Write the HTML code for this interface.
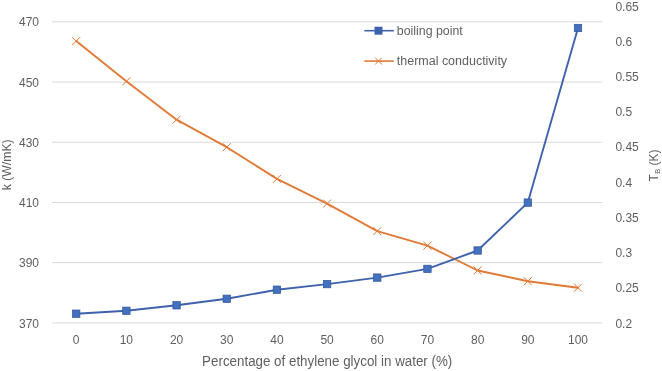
<!DOCTYPE html><html><head><meta charset="utf-8"><style>html,body{margin:0;padding:0;background:#fff;width:662px;height:371px;overflow:hidden}svg{display:block;filter:blur(0.35px)}text{font-family:"Liberation Sans",sans-serif;fill:#5f5f5f}</style></head><body>
<svg width="662" height="371" viewBox="0 0 662 371">
<rect width="662" height="371" fill="#fff"/>
<line x1="52" y1="21.80" x2="602.4" y2="21.80" stroke="#D9D9D9" stroke-width="1"/>
<line x1="52" y1="82.02" x2="602.4" y2="82.02" stroke="#D9D9D9" stroke-width="1"/>
<line x1="52" y1="142.24" x2="602.4" y2="142.24" stroke="#D9D9D9" stroke-width="1"/>
<line x1="52" y1="202.46" x2="602.4" y2="202.46" stroke="#D9D9D9" stroke-width="1"/>
<line x1="52" y1="262.68" x2="602.4" y2="262.68" stroke="#D9D9D9" stroke-width="1"/>
<line x1="52" y1="322.90" x2="602.4" y2="322.90" stroke="#D9D9D9" stroke-width="1"/>
<text x="39" y="26.40" font-size="12" text-anchor="end">470</text>
<text x="39" y="86.62" font-size="12" text-anchor="end">450</text>
<text x="39" y="146.84" font-size="12" text-anchor="end">430</text>
<text x="39" y="207.06" font-size="12" text-anchor="end">410</text>
<text x="39" y="267.28" font-size="12" text-anchor="end">390</text>
<text x="39" y="327.50" font-size="12" text-anchor="end">370</text>
<text x="615.4" y="10.60" font-size="12">0.65</text>
<text x="615.4" y="45.82" font-size="12">0.6</text>
<text x="615.4" y="81.04" font-size="12">0.55</text>
<text x="615.4" y="116.26" font-size="12">0.5</text>
<text x="615.4" y="151.48" font-size="12">0.45</text>
<text x="615.4" y="186.70" font-size="12">0.4</text>
<text x="615.4" y="221.92" font-size="12">0.35</text>
<text x="615.4" y="257.14" font-size="12">0.3</text>
<text x="615.4" y="292.36" font-size="12">0.25</text>
<text x="615.4" y="327.58" font-size="12">0.2</text>
<text x="76.20" y="344.30" font-size="12" text-anchor="middle">0</text>
<text x="126.38" y="344.30" font-size="12" text-anchor="middle">10</text>
<text x="176.56" y="344.30" font-size="12" text-anchor="middle">20</text>
<text x="226.74" y="344.30" font-size="12" text-anchor="middle">30</text>
<text x="276.92" y="344.30" font-size="12" text-anchor="middle">40</text>
<text x="327.10" y="344.30" font-size="12" text-anchor="middle">50</text>
<text x="377.28" y="344.30" font-size="12" text-anchor="middle">60</text>
<text x="427.46" y="344.30" font-size="12" text-anchor="middle">70</text>
<text x="477.64" y="344.30" font-size="12" text-anchor="middle">80</text>
<text x="527.82" y="344.30" font-size="12" text-anchor="middle">90</text>
<text x="578.00" y="344.30" font-size="12" text-anchor="middle">100</text>
<text x="327.2" y="365.6" font-size="14" text-anchor="middle" textLength="250.2" lengthAdjust="spacingAndGlyphs">Percentage of ethylene glycol in water (%)</text>
<text transform="translate(10.6,164.8) rotate(-90)" font-size="12" text-anchor="middle" textLength="51" lengthAdjust="spacingAndGlyphs">k (W/mK)</text>
<text transform="translate(657.5,165.4) rotate(-90)" font-size="12" text-anchor="middle">T<tspan font-size="8" dy="2">B</tspan><tspan dy="-2"> (K)</tspan></text>
<polyline points="76.20,41.10 126.38,81.30 176.56,119.70 226.74,147.20 276.92,178.90 327.10,203.60 377.28,231.10 427.46,245.60 477.64,270.50 527.82,281.20 578.00,287.70" fill="none" stroke="#E07A36" stroke-width="1.9" stroke-linejoin="round" stroke-linecap="round"/>
<path d="M72.20 37.10L80.20 45.10M72.20 45.10L80.20 37.10" stroke="#E07A36" stroke-width="1.0" fill="none"/>
<path d="M122.38 77.30L130.38 85.30M122.38 85.30L130.38 77.30" stroke="#E07A36" stroke-width="1.0" fill="none"/>
<path d="M172.56 115.70L180.56 123.70M172.56 123.70L180.56 115.70" stroke="#E07A36" stroke-width="1.0" fill="none"/>
<path d="M222.74 143.20L230.74 151.20M222.74 151.20L230.74 143.20" stroke="#E07A36" stroke-width="1.0" fill="none"/>
<path d="M272.92 174.90L280.92 182.90M272.92 182.90L280.92 174.90" stroke="#E07A36" stroke-width="1.0" fill="none"/>
<path d="M323.10 199.60L331.10 207.60M323.10 207.60L331.10 199.60" stroke="#E07A36" stroke-width="1.0" fill="none"/>
<path d="M373.28 227.10L381.28 235.10M373.28 235.10L381.28 227.10" stroke="#E07A36" stroke-width="1.0" fill="none"/>
<path d="M423.46 241.60L431.46 249.60M423.46 249.60L431.46 241.60" stroke="#E07A36" stroke-width="1.0" fill="none"/>
<path d="M473.64 266.50L481.64 274.50M473.64 274.50L481.64 266.50" stroke="#E07A36" stroke-width="1.0" fill="none"/>
<path d="M523.82 277.20L531.82 285.20M523.82 285.20L531.82 277.20" stroke="#E07A36" stroke-width="1.0" fill="none"/>
<path d="M574.00 283.70L582.00 291.70M574.00 291.70L582.00 283.70" stroke="#E07A36" stroke-width="1.0" fill="none"/>
<polyline points="76.20,313.70 126.38,310.80 176.56,305.30 226.74,298.80 276.92,289.70 327.10,284.10 377.28,277.60 427.46,268.90 477.64,250.50 527.82,202.60 578.00,28.00" fill="none" stroke="#3E63AC" stroke-width="1.9" stroke-linejoin="round" stroke-linecap="round"/>
<rect x="72.50" y="310.00" width="7.4" height="7.4" fill="#4470C0" stroke="#2F5597" stroke-width="0.7"/>
<rect x="122.68" y="307.10" width="7.4" height="7.4" fill="#4470C0" stroke="#2F5597" stroke-width="0.7"/>
<rect x="172.86" y="301.60" width="7.4" height="7.4" fill="#4470C0" stroke="#2F5597" stroke-width="0.7"/>
<rect x="223.04" y="295.10" width="7.4" height="7.4" fill="#4470C0" stroke="#2F5597" stroke-width="0.7"/>
<rect x="273.22" y="286.00" width="7.4" height="7.4" fill="#4470C0" stroke="#2F5597" stroke-width="0.7"/>
<rect x="323.40" y="280.40" width="7.4" height="7.4" fill="#4470C0" stroke="#2F5597" stroke-width="0.7"/>
<rect x="373.58" y="273.90" width="7.4" height="7.4" fill="#4470C0" stroke="#2F5597" stroke-width="0.7"/>
<rect x="423.76" y="265.20" width="7.4" height="7.4" fill="#4470C0" stroke="#2F5597" stroke-width="0.7"/>
<rect x="473.94" y="246.80" width="7.4" height="7.4" fill="#4470C0" stroke="#2F5597" stroke-width="0.7"/>
<rect x="524.12" y="198.90" width="7.4" height="7.4" fill="#4470C0" stroke="#2F5597" stroke-width="0.7"/>
<rect x="574.30" y="24.30" width="7.4" height="7.4" fill="#4470C0" stroke="#2F5597" stroke-width="0.7"/>
<line x1="364.4" y1="30.7" x2="393.8" y2="30.7" stroke="#3E63AC" stroke-width="1.6"/>
<rect x="374.5" y="26.7" width="8" height="8" fill="#3E63AC"/>
<text x="396.8" y="34.9" font-size="12" textLength="66" lengthAdjust="spacingAndGlyphs">boiling point</text>
<line x1="364.4" y1="61.1" x2="393.8" y2="61.1" stroke="#E07A36" stroke-width="1.6"/>
<path d="M375.10 57.70L381.90 64.50M375.10 64.50L381.90 57.70" stroke="#E07A36" stroke-width="1.0" fill="none"/>
<text x="396.8" y="65" font-size="12" textLength="110.3" lengthAdjust="spacingAndGlyphs">thermal conductivity</text>
</svg></body></html>
